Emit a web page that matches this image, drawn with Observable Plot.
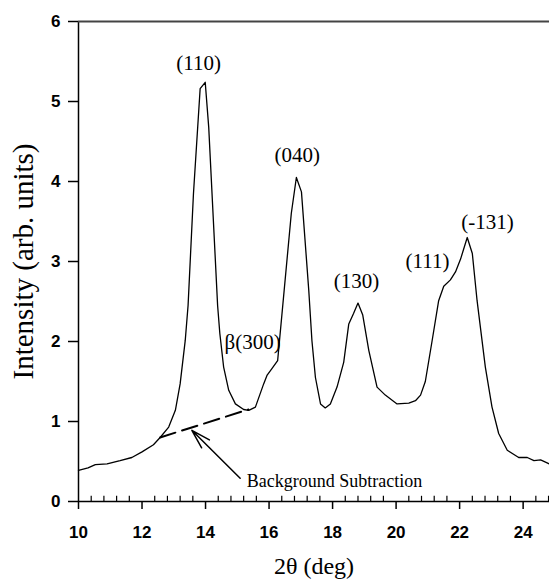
<!DOCTYPE html>
<html>
<head>
<meta charset="utf-8">
<script src="https://cdn.jsdelivr.net/npm/d3@7"></script>
<script src="https://cdn.jsdelivr.net/npm/@observablehq/plot@0.6"></script>
<style>
  html, body { margin: 0; padding: 0; background: #fff; }
  svg { display: block; }
</style>
</head>
<body>
<div id="chart"></div>
<script>
// 2θ (deg) and intensity (arb. units)
const twoTheta = [10.0, 10.3, 10.53, 10.9, 11.31, 11.68, 12.0, 12.36, 12.57, 12.84, 13.05, 13.2, 13.36, 13.45,
  13.62, 13.83, 13.99, 14.1, 14.38, 14.45, 14.57, 14.73, 14.94, 15.2, 15.36, 15.57, 15.83, 15.94, 16.09, 16.27,
  16.7, 16.86, 17.02, 17.25, 17.35, 17.46, 17.62, 17.77, 17.93, 18.14, 18.35, 18.51, 18.66, 18.80, 18.95, 19.14,
  19.4, 19.66, 20.03, 20.4, 20.61, 20.77, 20.92, 21.13, 21.34, 21.5, 21.71, 21.87, 22.03, 22.24, 22.4, 22.55,
  22.81, 23.02, 23.23, 23.5, 23.86, 24.13, 24.34, 24.55, 24.83];
const intensity = [0.39, 0.42, 0.46, 0.47, 0.51, 0.55, 0.62, 0.71, 0.80, 0.93, 1.14, 1.47, 2.01, 2.45,
  3.85, 5.16, 5.24, 4.68, 2.45, 2.10, 1.68, 1.39, 1.22, 1.15, 1.14, 1.18, 1.47, 1.58, 1.66, 1.76,
  3.60, 4.05, 3.87, 2.64, 2.01, 1.55, 1.22, 1.17, 1.22, 1.43, 1.74, 2.22, 2.35, 2.48, 2.33, 1.89,
  1.43, 1.33, 1.22, 1.23, 1.26, 1.33, 1.50, 2.00, 2.51, 2.69, 2.77, 2.87, 3.03, 3.30, 3.10, 2.51,
  1.68, 1.18, 0.85, 0.64, 0.55, 0.55, 0.51, 0.52, 0.47];

// Background subtraction dashed line
const bgX = [12.57, 15.35];
const bgY = [0.80, 1.15];

// Peak labels
const peakText = ["(110)", "(040)", "β(300)", "(130)", "(111)", "(-131)"];
const peakX = [13.78, 16.89, 15.48, 18.75, 20.99, 22.88];
const peakY = [5.475, 4.325, 1.99, 2.75, 3.0, 3.49];

// Annotation arrow
const noteText = ["Background Subtraction"];
const noteX = [15.3];
const noteY = [0.25];
const arrowX = [15.09, 13.57];
const arrowY = [0.29, 0.89];

// Axis ticks
const xTicks = [10, 12, 14, 16, 18, 20, 22, 24];
const yTicks = [0, 1, 2, 3, 4, 5, 6];
const xMinor = d3.range(10.4, 24.9, 0.4).map(v => +v.toFixed(1)).filter(v => Math.abs(v % 2) > 1e-6 && Math.abs(v % 2 - 2) > 1e-6);

const serif = "Liberation Serif, Times New Roman, serif";
const sans = "Liberation Sans, Arial, sans-serif";

const chart = Plot.plot({
  width: 549,
  height: 579,
  marginLeft: 78,
  marginRight: 0,
  marginTop: 21,
  marginBottom: 78,
  style: { background: "#fff", color: "#000", fontFamily: sans },
  x: { domain: [10, 24.83] },
  y: { domain: [0, 6] },
  marks: [
    Plot.axisX(xTicks, { tickSize: 8, tickPadding: 16, fontSize: 17, fontWeight: "bold", fontFamily: sans, label: null, strokeWidth: 1.5, tickFormat: d => d }),
    Plot.axisY(yTicks, { tickSize: 10, tickPadding: 8, fontSize: 17, fontWeight: "bold", fontFamily: sans, label: null, strokeWidth: 1.5, tickFormat: d => d }),
    Plot.ruleX(xMinor, { y1: 0, y2: 0.065, stroke: "#000", strokeWidth: 1.2 }),
    Plot.ruleX([10], { y1: 0, y2: 6, stroke: "#000", strokeWidth: 1.5 }),
    Plot.ruleY([0], { stroke: "#000", strokeWidth: 1.5 }),
    Plot.ruleY([6], { stroke: "#444", strokeWidth: 2 }),
    Plot.line(twoTheta, { x: twoTheta, y: intensity, stroke: "#000", strokeWidth: 1.3 }),
    Plot.line(bgX, { x: bgX, y: bgY, stroke: "#000", strokeWidth: 2, strokeDasharray: "16,7" }),
    Plot.arrow([0], { x1: arrowX[0], y1: arrowY[0], x2: arrowX[1], y2: arrowY[1], stroke: "#000", strokeWidth: 1.5, headLength: 20, headAngle: 32 }),
    Plot.text(peakText, { x: peakX, y: peakY, text: peakText, fontFamily: serif, fontSize: 21, fill: "#000" }),
    Plot.text(noteText, { x: noteX, y: noteY, text: noteText, fontFamily: serif, fontSize: 18, fill: "#000", textAnchor: "start" }),
    Plot.text(["Intensity (arb. units)"], { frameAnchor: "left", textAnchor: "middle", lineAnchor: "middle", dx: -55, rotate: -90, fontFamily: serif, fontSize: 29, fill: "#000" }),
    Plot.text(["2θ (deg)"], { frameAnchor: "bottom", textAnchor: "middle", lineAnchor: "middle", dy: 65, fontFamily: serif, fontSize: 24, fill: "#000" })
  ]
});
// enlarge axis tick labels (axis marks ignore fontSize in this build)
chart.querySelectorAll('g[aria-label*="axis"] text').forEach(t => {
  t.style.fontSize = "17px";
  t.style.fontWeight = "bold";
  t.style.fontFamily = sans;
});
document.getElementById("chart").appendChild(chart);
</script>
</body>
</html>
